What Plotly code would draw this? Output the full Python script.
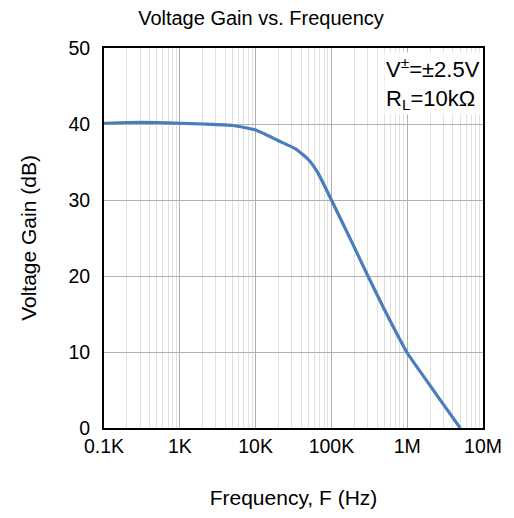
import plotly.graph_objects as go

freq_hz = [100, 200, 500, 1e3, 2e3, 5e3, 1e4, 2e4, 3.4e4, 5e4, 6.7e4, 1e5,
           2e5, 3e5, 5e5, 1e6, 2e6, 3e6, 5e6]
gain_db = [40.1, 40.2, 40.2, 40.1, 40.0, 39.8, 39.2, 37.8, 36.7, 35.3, 33.5, 30.0,
           23.8, 20.1, 15.6, 9.9, 5.6, 3.1, 0.0]

x_tickvals = [100, 1e3, 1e4, 1e5, 1e6, 1e7]
x_ticktext = ["0.1K", "1K", "10K", "100K", "1M", "10M"]
y_tickvals = [0, 10, 20, 30, 40, 50]

font = "Liberation Sans, Arial, sans-serif"

fig = go.Figure()
fig.add_trace(go.Scatter(x=freq_hz, y=gain_db, mode="lines",
                         line=dict(color="#4a7ebb", width=3.2, shape="spline", smoothing=0.5),
                         showlegend=False))

fig.update_layout(
    width=506, height=510,
    margin=dict(l=96, r=28, t=40, b=90),
    paper_bgcolor="white", plot_bgcolor="white",
    font=dict(family=font, color="black"),
    title=dict(text="Voltage Gain vs. Frequency", x=0.5, xanchor="center",
               y=0.98, yanchor="middle", font=dict(size=20, family=font)),
)
fig.update_xaxes(type="log", range=[2, 7], tickvals=x_tickvals, ticktext=x_ticktext,
                 tickfont=dict(size=19.5), showgrid=True, gridcolor="#b0b0b0", gridwidth=1,
                 minor=dict(showgrid=True, gridcolor="#e0e0e0", gridwidth=1, dtick="D1"),
                 showline=True, linecolor="black", linewidth=2, mirror=True,
                 ticks="", zeroline=False,
                 title=dict(text="Frequency, F (Hz)", font=dict(size=21), standoff=34))
fig.update_yaxes(range=[0, 50], tickvals=y_tickvals, tickfont=dict(size=19.5),
                 showgrid=True, gridcolor="#b0b0b0", gridwidth=1,
                 showline=True, linecolor="black", linewidth=2, mirror=True,
                 ticks="", zeroline=False, ticklabelstandoff=8,
                 title=dict(text="Voltage Gain (dB)", font=dict(size=21), standoff=26))

fig.add_annotation(xref="paper", yref="paper", x=0.997, y=0.99, xanchor="right", yanchor="top",
                   text="V<sup>±</sup>=±2.5V<br>R<sub>L</sub>=10kΩ", showarrow=False, align="left",
                   font=dict(size=22, family=font), bgcolor="white")

fig.write_html("out.html")
